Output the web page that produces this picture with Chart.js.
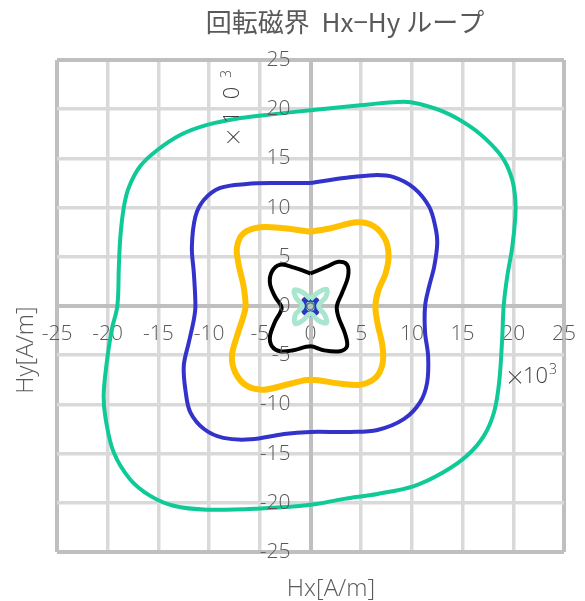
<!DOCTYPE html>
<html>
<head>
<meta charset="utf-8">
<script src="https://cdn.jsdelivr.net/npm/chart.js@4"></script>
<style>
html,body{margin:0;padding:0;background:#fff;}
#wrap{width:585px;height:601px;position:relative;}
</style>
</head>
<body>
<div id="wrap"><canvas id="c"></canvas></div>
<script>
// ---- data (values in ×10^3 A/m) ----
const titleText = '回転磁界  Hx−Hy ループ';
const xTitle = 'Hx[A/m]';
const yTitle = 'Hy[A/m]';
const axisMin = -25, axisMax = 25, axisStep = 5;

const greenX = [0,4.9,8.2,9.9,13.1,15.8,17.75,19.1,19.9,20.2,20.2,19.9,19.4,19.05,18.9,18.6,18.1,17.1,15.45,13.1,10.2,6.6,3.3,0,-5.3,-10.2,-13.5,-15.8,-17.8,-19.4,-20.2,-20.4,-20.1,-19.6,-19.05,-18.9,-18.75,-18.4,-17.9,-16.8,-15.1,-12.8,-10.2,-6.9,-3.6,0];
const greenY = [19.9,20.4,20.7,20.7,19.75,18.2,16.5,14.8,12.8,10.8,9.1,6.0,3.0,0,-3.4,-7.8,-10.8,-13.2,-15.2,-16.9,-18.3,-19.1,-19.6,-20.2,-20.6,-20.7,-20.3,-19.3,-17.6,-14.9,-11.5,-9.1,-5.8,-2.4,0,4.0,7.05,10.1,12.1,14.2,15.85,17.4,18.4,19.1,19.5,19.9];

const blueX = [0,3.3,6.25,8.2,10.2,11.7,12.3,12.5,12.2,11.7,11.3,11.3,11.6,11.5,10.8,9.2,6.6,3.9,0,-2.6,-5.9,-8.6,-10.5,-11.85,-12.3,-12.5,-12.0,-11.5,-11.35,-11.5,-11.7,-11.35,-10.5,-8.9,-6.3,-3.3,0];
const blueY = [12.5,13.0,13.3,13.1,12.0,10.1,8.1,6.4,4.0,2.0,0,-2.7,-5.1,-7.8,-9.8,-11.5,-12.6,-12.8,-12.8,-13.0,-13.55,-13.4,-12.5,-10.8,-8.8,-6.1,-3.7,-1.35,0,3.3,6.0,9.1,10.8,12.0,12.4,12.5,12.5];

const orangeX = [0,2.0,4.6,6.25,7.4,7.7,7.4,6.7,6.4,6.6,7.1,7.1,6.4,4.9,3.0,0,-2.0,-4.6,-6.3,-7.4,-7.75,-7.25,-6.6,-6.4,-6.6,-7.1,-7.25,-6.6,-4.95,-2.65,0];
const orangeY = [7.55,7.9,8.5,8.1,6.7,5.0,3.3,1.6,0,-1.7,-4.1,-5.9,-7.3,-8.0,-7.9,-7.5,-7.9,-8.5,-8.1,-6.8,-5.1,-3.05,-1.0,0,2.0,4.3,6.0,7.4,8.0,7.9,7.55];

const blackX = [0,1.6,2.75,3.6,3.7,3.1,2.6,2.75,3.4,3.6,2.9,1.3,0,-1.7,-3.0,-3.8,-4.0,-3.5,-2.85,-3.5,-4.0,-3.8,-3.0,-1.6,0];
const blackY = [3.3,4.0,4.5,4.2,3.0,1.3,0,-1.1,-2.8,-4.1,-4.6,-4.5,-4.1,-4.5,-4.6,-4.1,-3.1,-1.6,-0.2,0.95,2.3,3.5,4.2,3.9,3.3];

const mintX = [0,0.8,1.6,1.5,0.8,1.4,1.6,0.8,0,-0.8,-1.5,-1.5,-0.8,-1.4,-1.6,-0.8,0];
const mintY = [0.7,1.4,1.7,0.9,0,-0.9,-1.7,-1.5,-0.8,-1.5,-1.8,-0.9,0,0.8,1.6,1.4,0.7];

const navyX = [0,0.55,0.7,0.55,0,-0.55,-0.7,-0.55,0];
const navyY = [0.75,0.55,0,-0.6,-0.8,-0.6,0,0.6,0.75];

const tealX = [0,0.3,0.35,0.2,-0.1,-0.35,-0.3,0];
const tealY = [0.35,0.2,-0.1,-0.35,-0.4,-0.15,0.2,0.35];

function pts(xs, ys){ return xs.map((x,i)=>({x:x, y:ys[i]})); }

const TEXT = '#595959';
const FONT = "'Open Sans','Noto Sans',sans-serif";
const CJK = "'Noto Sans CJK JP',sans-serif";

// y-axis tick labels drawn from the library's own y scale (placed left of the centre axis)
const yLabelPlugin = {
  id:'yLabels',
  afterDatasetsDraw(chart){
    const c = chart.ctx, ys = chart.scales.y, xs = chart.scales.x;
    const x0 = xs.getPixelForValue(0);
    c.save();
    c.fillStyle = TEXT;
    c.font = "300 21px " + FONT;
    c.textAlign = 'right';
    c.textBaseline = 'middle';
    ys.ticks.forEach(t => {
      c.fillText(String(t.value), x0 - 20, ys.getPixelForValue(t.value));
    });
    c.restore();
  }
};

const textPlugin = {
  id:'texts',
  afterDraw(chart){
    const c = chart.ctx;
    c.save();
    c.fillStyle = TEXT;
    c.textBaseline = 'middle';
    c.textAlign = 'center';
    c.font = "26px 'Noto Sans CJK JP','Open Sans',sans-serif";
    c.fillText(titleText, 345, 22);
    c.font = "300 24px " + FONT;
    c.fillText(xTitle, 331, 589);
    c.save();
    c.translate(26, 350);
    c.rotate(-Math.PI/2);
    c.fillText(yTitle, 0, 0);
    c.restore();
    // multiplier labels
    c.fillStyle = '#404040';
    c.textAlign = 'center';
    c.font = "300 20px " + CJK;
    c.fillText('×', 515, 377);
    c.textAlign = 'left';
    c.font = "300 22px " + FONT;
    c.fillText('10', 523, 377);
    let w = c.measureText('10').width;
    c.font = "300 14px " + FONT;
    c.fillText('3', 523 + w + 1, 370);
    // rotated ×1 0 3
    const rot = [['×',137,20,0,CJK],['1',117,22,0,FONT],['0',93,22,0,FONT],['3',74,14,-6,FONT]];
    rot.forEach(r => {
      c.save();
      c.translate(233 + r[3], r[1]);
      c.rotate(-Math.PI/2);
      c.textAlign = 'center';
      c.font = "300 " + r[2] + "px " + r[4];
      c.fillText(r[0], 0, 0);
      c.restore();
    });
    c.restore();
  }
};

function gridColor(ctx){
  const v = ctx.tick && ctx.tick.value;
  return (v === axisMin || v === axisMax || v === 0) ? '#bfbfbf' : '#d9d9d9';
}
function gridWidth(ctx){
  const v = ctx.tick && ctx.tick.value;
  return (v === axisMin || v === axisMax || v === 0) ? 4 : 3.5;
}

const mk = (xs, ys, color, width) => ({
  data: pts(xs, ys), borderColor: color, backgroundColor: color,
  borderWidth: width, showLine: true, pointRadius: 0, tension: 0.35, fill: false
});

new Chart(document.getElementById('c'), {
  type: 'scatter',
  data: {
    datasets: [
      mk(greenX, greenY, '#0fca97', 4),
      mk(blueX, blueY, '#3333cc', 4),
      mk(orangeX, orangeY, '#ffc000', 6),
      mk(blackX, blackY, '#000000', 4),
      mk(mintX, mintY, '#a9e6cf', 5),
      mk(navyX, navyY, '#2b35c0', 6),
      mk(tealX, tealY, '#1a9a7a', 1.5)
    ]
  },
  plugins: [yLabelPlugin, textPlugin],
  options: {
    responsive: true, maintainAspectRatio: false, animation: false,
    layout: { padding: { left: 57, top: 60, right: 21, bottom: 49 } },
    plugins: { legend: { display: false }, tooltip: { enabled: false }, title: { display: false } },
    scales: {
      x: {
        type: 'linear', min: axisMin, max: axisMax, position: { y: 0 },
        afterFit(s){ s.paddingLeft = 0; s.paddingRight = 0; },
        ticks: { stepSize: axisStep, color: TEXT, font: { family: FONT, size: 21, weight: 300 }, padding: 15 },
        grid: { color: gridColor, lineWidth: gridWidth, drawTicks: false },
        border: { display: true, color: '#bfbfbf', width: 4 }
      },
      y: {
        type: 'linear', min: axisMin, max: axisMax, position: { x: 0 },
        afterFit(s){ s.paddingTop = 0; s.paddingBottom = 0; },
        ticks: { stepSize: axisStep, display: false },
        grid: { color: gridColor, lineWidth: gridWidth, drawTicks: false },
        border: { display: true, color: '#bfbfbf', width: 4 }
      }
    }
  }
});
</script>
</body>
</html>
